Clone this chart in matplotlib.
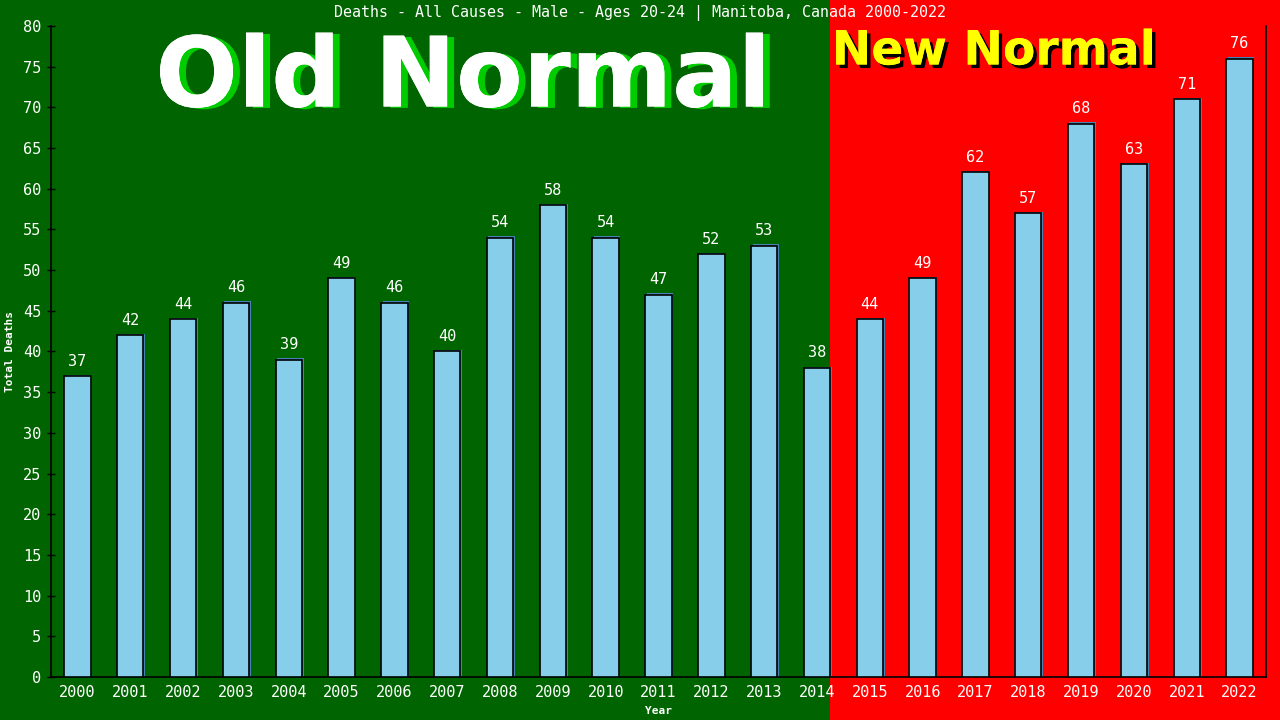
import matplotlib
matplotlib.use("Agg")
import matplotlib.pyplot as plt
import matplotlib.patheffects as pe
from matplotlib.patches import Rectangle

years = ["2000", "2001", "2002", "2003", "2004", "2005", "2006", "2007", "2008", "2009",
         "2010", "2011", "2012", "2013", "2014", "2015", "2016", "2017", "2018", "2019",
         "2020", "2021", "2022"]
deaths = [37, 42, 44, 46, 39, 49, 46, 40, 54, 58, 54, 47, 52, 53, 38, 44, 49, 62, 57, 68, 63, 71, 76]
yticks = list(range(0, 81, 5))

title = "Deaths - All Causes - Male - Ages 20-24 | Manitoba, Canada 2000-2022"
mono = "DejaVu Sans Mono"

fig = plt.figure(figsize=(12.8, 7.2), dpi=100)
fig.patch.set_facecolor("#006400")
ax = fig.add_axes([51 / 1280, 43 / 720, (1266 - 51) / 1280, (677 - 26) / 720])
ax.set_facecolor("none")
ax.set_xlim(-0.5, len(years) - 0.5)
ax.set_ylim(0, 80)

# red background from right edge of 2014 bar to figure right
split = 14.25
x_fig = ax.transData.transform((split, 0))[0] / fig.bbox.width
fig.patches.append(Rectangle((x_fig, 0), 1 - x_fig, 1, transform=fig.transFigure,
                             facecolor="#FF0000", edgecolor="none", zorder=-10))

xs = list(range(len(years)))
# shadow bars
ax.bar([x + 0.03 for x in xs], [d + 0.15 for d in deaths], width=0.5, color="#4682B4",
       edgecolor="none", zorder=2)
ax.bar(xs, deaths, width=0.5, color="#87CEEB", edgecolor="black", linewidth=1.2, zorder=3)

for x, d in zip(xs, deaths):
    ax.text(x, d + 0.9, str(d), ha="center", va="bottom", color="white",
            fontsize=11, family=mono, zorder=4)

ax.set_xticks(xs)
ax.set_xticklabels(years, family=mono, fontsize=11, color="white")
ax.set_yticks(yticks)
ax.set_yticklabels([str(t) for t in yticks], family=mono, fontsize=11, color="white")
ax.tick_params(axis="x", length=0, pad=6)
ax.tick_params(axis="y", length=6, direction="inout", width=1, color="black", pad=4)
for s in ["left", "bottom", "right"]:
    ax.spines[s].set_color("black")
    ax.spines[s].set_linewidth(1.2)
ax.spines["top"].set_visible(False)

ax.set_xlabel("Year", family=mono, fontsize=8, color="white", fontweight="bold", labelpad=4)
ax.set_ylabel("Total Deaths", family=mono, fontsize=8, color="white", fontweight="bold", labelpad=6)

fig.text(0.5, 1 - 13 / 720, title, ha="center", va="center", color="white",
         family=mono, fontsize=10.8)

fig.text(463 / 1280, 1 - 80 / 720, "Old Normal", ha="center", va="center", color="white",
         family="DejaVu Sans", fontweight="bold", fontsize=70,
         path_effects=[pe.withSimplePatchShadow(offset=(5, -1), shadow_rgbFace="#00CC00", alpha=1.0), pe.Normal()])
fig.text(994 / 1280, 1 - 52 / 720, "New Normal", ha="center", va="center", color="#FFFF00",
         family="DejaVu Sans", fontweight="bold", fontsize=34,
         path_effects=[pe.withSimplePatchShadow(offset=(2.5, -2.5), shadow_rgbFace="black", alpha=1.0), pe.Normal()])

fig.savefig("out.png", dpi=100, facecolor=fig.get_facecolor())
